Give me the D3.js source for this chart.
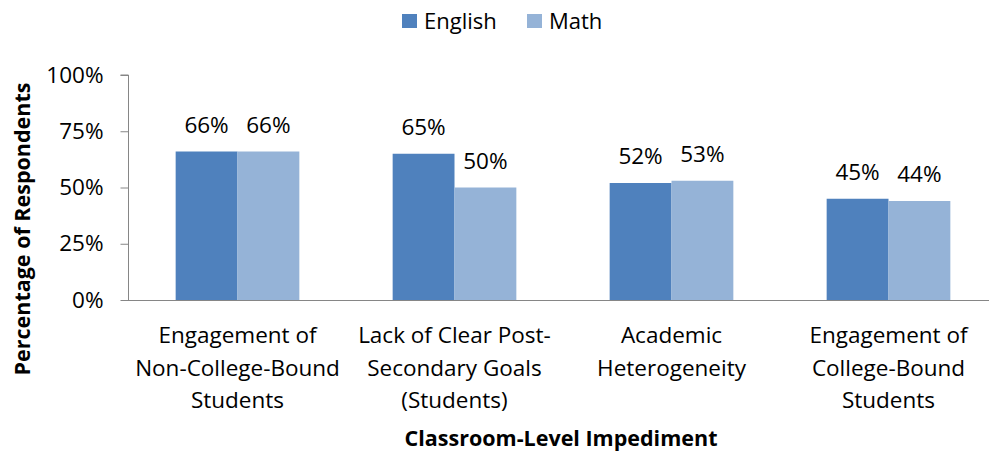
<!DOCTYPE html>
<html><head><meta charset="utf-8">
<script src="https://cdn.jsdelivr.net/npm/d3@7"></script>
<style>body{margin:0;background:#fff}svg{display:block}text{font-family:"Open Sans",sans-serif;fill:#000}</style>
</head><body><svg id="c" width="989" height="452"></svg>
<script>
const categories = [
  ["Engagement of","Non-College-Bound","Students"],
  ["Lack of Clear Post-","Secondary Goals","(Students)"],
  ["Academic","Heterogeneity"],
  ["Engagement of","College-Bound","Students"]
];
const seriesNames = ["English","Math"];
const english = [66,65,52,45];
const math = [66,50,53,44];
const yTicks = [0,25,50,75,100];
const colors = ["#4F81BD","#95B3D7"];

const svg = d3.select("#c");
const m = {l:129, r:997, t:75, b:300};
const x = d3.scaleBand().domain(d3.range(categories.length)).range([m.l,m.r]).paddingInner(0.43).paddingOuter(0.215);
const xs = d3.scaleBand().domain(seriesNames).range([0,x.bandwidth()]);
const y = d3.scaleLinear().domain([0,100]).range([m.b,m.t]);
const vals = [english, math];

// y axis
const ya = svg.append("g").attr("transform",`translate(${m.l-0.5},0)`)
  .call(d3.axisLeft(y).tickValues(yTicks).tickFormat(d=>d+"%").tickSize(8).tickPadding(17));
ya.select(".domain").attr("stroke","#868686").attr("d",`M-8,${y(100)}H0V${y(0)}`);
ya.selectAll(".tick line").attr("stroke","#868686");
ya.selectAll(".tick text").style("font-size","22.5px").attr("fill","#000");

// bars
seriesNames.forEach((s,si)=>{
  svg.append("g").selectAll("rect").data(vals[si]).join("rect")
    .attr("x",(d,i)=>x(i)+xs(s)).attr("width",xs.bandwidth())
    .attr("y",d=>y(d)).attr("height",d=>y(0)-y(d)).attr("fill",colors[si]);
  svg.append("g").selectAll("text").data(vals[si]).join("text")
    .attr("x",(d,i)=>x(i)+xs(s)+xs.bandwidth()/2).attr("y",d=>y(d)-19)
    .attr("text-anchor","middle").style("font-size","22.5px").text(d=>d+"%");
});

// x axis line
svg.append("line").attr("x1",m.l-1).attr("x2",m.r).attr("y1",y(0)+0.5).attr("y2",y(0)+0.5).attr("stroke","#868686");

// category labels
categories.forEach((lines,i)=>{
  const t = svg.append("text").attr("text-anchor","middle").style("font-size","22.5px")
    .attr("x",x(i)+x.bandwidth()/2).attr("y",343);
  lines.forEach((l,j)=>t.append("tspan").attr("x",x(i)+x.bandwidth()/2).attr("dy",j?32.5:0).text(l));
});

// axis titles
svg.append("text").attr("x",561).attr("y",446).attr("text-anchor","middle")
  .style("font-size","21.5px").style("font-weight","bold").text("Classroom-Level Impediment");
svg.append("text").attr("transform","translate(30,229) rotate(-90)").attr("text-anchor","middle")
  .style("font-size","21.5px").style("font-weight","bold").text("Percentage of Respondents");

// legend
const lg = svg.append("g");
seriesNames.forEach((s,i)=>{
  const lx = [402,527][i];
  lg.append("rect").attr("x",lx).attr("y",14).attr("width",15).attr("height",14).attr("fill",colors[i]);
  lg.append("text").attr("x",lx+22).attr("y",29).style("font-size","22px").text(s);
});
</script></body></html>
